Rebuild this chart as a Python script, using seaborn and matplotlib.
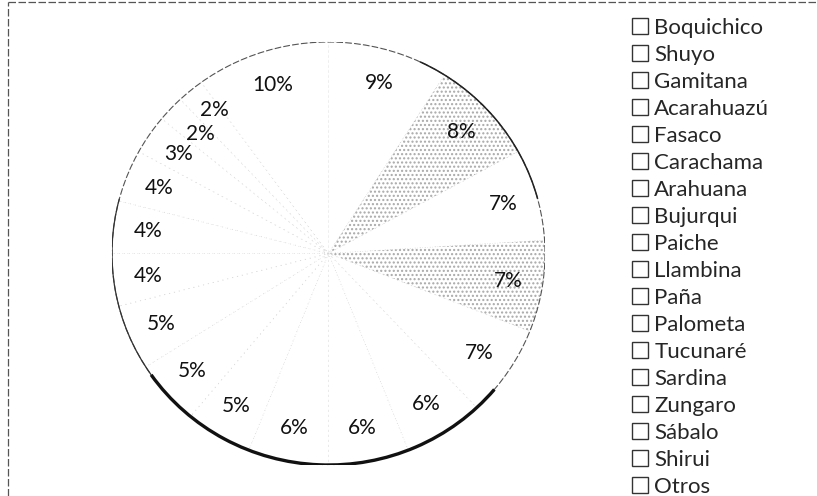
import matplotlib
matplotlib.use("Agg")
import matplotlib.pyplot as plt
from matplotlib.patches import Patch, Arc, Circle
from matplotlib.lines import Line2D
import seaborn as sns

# Species share of the catch
species = ["Boquichico", "Shuyo", "Gamitana", "Acarahuazú", "Fasaco", "Carachama",
           "Arahuana", "Bujurqui", "Paiche", "Llambina", "Paña", "Palometa",
           "Tucunaré", "Sardina", "Zungaro", "Sábalo", "Shirui", "Otros"]
shares = [9, 8, 7, 7, 7, 6, 6, 6, 5, 5, 5, 4, 4, 4, 3, 2, 2, 10]
stippled = ["Shuyo", "Acarahuazú"]

sns.set_theme(style="white")
plt.rcParams["font.family"] = ["Lato", "DejaVu Sans"]

fig = plt.figure(figsize=(8.17, 4.96), dpi=100)
ax = fig.add_axes([112 / 817, 31 / 496, 433 / 817, 423 / 496])

wedges, _, autotexts = ax.pie(
    shares,
    startangle=90,
    counterclock=False,
    colors=["white"] * len(shares),
    autopct=lambda p: f"{p:.0f}%",
    pctdistance=0.84,
    wedgeprops=dict(edgecolor="#d2d2d2", linewidth=0.6, linestyle=(0, (1, 5))),
    textprops=dict(fontsize=15, color="#111111"),
    frame=False,
)
for w, name in zip(wedges, species):
    if name in stippled:
        w.set_hatch("....")
        w.set_edgecolor("#a8a8a8")
        w.set_linewidth(0.3)

# Spread the two thin 2% labels so they stack cleanly
for t, name in zip(autotexts, species):
    x, y = t.get_position()
    if name == "Shirui":
        t.set_position((x + 0.01, y + 0.03))
    elif name == "Sábalo":
        t.set_position((x + 0.02, y - 0.01))

ax.set_aspect("auto")
ax.set_xlim(-1.0, 1.0)
ax.set_ylim(-1.0, 1.0)
ax.axis("off")

# Pie outline, heavier along the lower rim
ax.add_patch(Circle((0, 0), 1.0, fill=False, edgecolor="#555555", lw=0.8,
                    linestyle=(0, (6, 2))))
ax.add_patch(Arc((0, 0), 2.0, 2.0, theta1=215, theta2=320, edgecolor="#111111", lw=2.4))
ax.add_patch(Arc((0, 0), 2.0, 2.0, theta1=15, theta2=65, edgecolor="#222222", lw=1.1))
ax.add_patch(Arc((0, 0), 2.0, 2.0, theta1=165, theta2=215, edgecolor="#333333", lw=0.9))

# Legend
handles = [Patch(facecolor="white", edgecolor="#333333", linewidth=1.0) for _ in species]
fig.legend(handles, species, loc="upper left", bbox_to_anchor=(632 / 817, 1 - 18 / 496),
           frameon=False, fontsize=16, handlelength=0.7, handleheight=0.7,
           handletextpad=0.3, labelspacing=0.315, borderpad=0.0, borderaxespad=0.0)

# Chart area frame (top and left edges)
fig.add_artist(Line2D([8 / 817, 1.0], [1 - 2 / 496, 1 - 2 / 496], transform=fig.transFigure,
                      color="#555555", lw=0.9, linestyle=(0, (6, 2))))
fig.add_artist(Line2D([8 / 817, 8 / 817], [0.0, 1 - 2 / 496], transform=fig.transFigure,
                      color="#555555", lw=0.9, linestyle=(0, (6, 2))))

fig.savefig("out.png", dpi=100, facecolor="white")
